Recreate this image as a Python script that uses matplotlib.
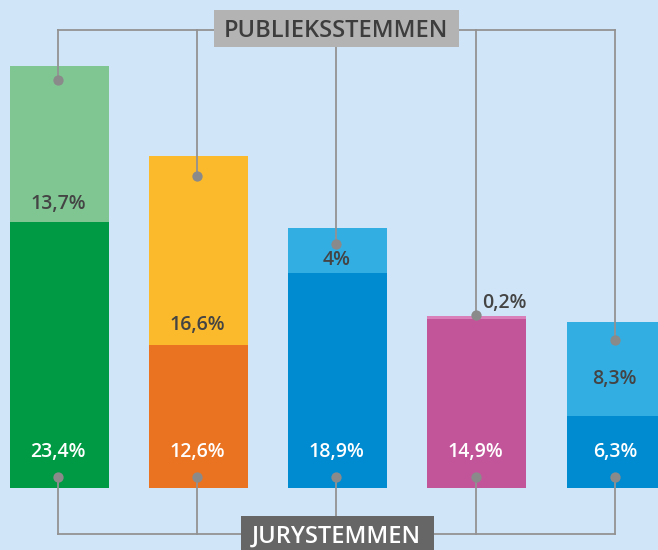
import numpy as np
import matplotlib
matplotlib.use("Agg")
import matplotlib.pyplot as plt
from matplotlib.patches import Rectangle

# Data: jury (bottom) and public (top) vote shares per act
jury = [23.4, 12.6, 18.9, 14.9, 6.3]
publiek = [13.7, 16.6, 4.0, 0.2, 8.3]
jury_labels = ["23,4%", "12,6%", "18,9%", "14,9%", "6,3%"]
publiek_labels = ["13,7%", "16,6%", "4%", "0,2%", "8,3%"]

# Styling
BG = "#d0e6f8"
jury_colors = ["#009a44", "#ea7321", "#008bd0", "#c2559a", "#008bd0"]
publiek_colors = ["#80c693", "#fbba2b", "#32aee3", "#d97fb9", "#32aee3"]
LINE = "#929292"
DOT = "#8a8a8a"
FONT = "Open Sans"
WEIGHT = "semibold"

# layout (data units, 1 unit ~ 11.37 px vertically, 139.2 px horizontally)
top_dot_y = [35.9, 27.4, 21.5, 15.2, 13.0]
bot_dot_y = 0.97
top_line_y = 40.3
bot_line_y = -4.05
label_off = [1.14, 1.3, 0.71, 0.7, 2.85]
jury_label_y = 2.73
bar_w = 99 / 139.2

fig = plt.figure(figsize=(6.58, 5.5), dpi=100)
fig.patch.set_facecolor(BG)
ax = fig.add_axes([0, 0, 1, 1])
ax.set_facecolor(BG)
ax.axis("off")

x = np.arange(len(jury))
ax.bar(x + 0.01, jury, width=bar_w, color=jury_colors, zorder=2)
ax.bar(x + 0.01, publiek, bottom=jury, width=bar_w, color=publiek_colors, zorder=2)

# connector lines
ax.plot([x[0], x[-1]], [top_line_y, top_line_y], color=LINE, lw=1.3, zorder=3)
ax.plot([x[0], x[-1]], [bot_line_y, bot_line_y], color=LINE, lw=1.3, zorder=3)
for i in x:
    ax.plot([i, i], [top_line_y, top_dot_y[i]], color=LINE, lw=1.3, zorder=3)
    ax.plot([i, i], [bot_line_y, bot_dot_y], color=LINE, lw=1.3, zorder=3)
ax.scatter(x, top_dot_y, s=55, color=DOT, zorder=4, linewidths=0)
ax.scatter(x, [bot_dot_y] * len(x), s=55, color=DOT, zorder=4, linewidths=0)

# value labels
for i in x:
    ax.text(i, jury_label_y, jury_labels[i], ha="center", va="baseline", color="white",
            fontsize=14, fontweight=WEIGHT, family=FONT, zorder=5)
    if i == 3:
        ax.text(i + 0.05, publiek[i] + jury[i] + label_off[i], publiek_labels[i], ha="left",
                va="baseline", color="#444444", fontsize=14, fontweight=WEIGHT, family=FONT, zorder=5)
    else:
        ax.text(i, jury[i] + label_off[i], publiek_labels[i], ha="center", va="baseline",
                color="#444444", fontsize=14, fontweight=WEIGHT, family=FONT, zorder=5)

# header boxes
ax.add_patch(Rectangle((1.121, 38.79), 1.76, 3.25, fc="#b3b3b3", ec="none", zorder=6))
ax.text(1.994, 39.67, "PUBLIEKSSTEMMEN", ha="center", va="baseline", color="#3d3d3d",
        fontsize=17, fontweight=WEIGHT, family=FONT, zorder=7)
ax.add_patch(Rectangle((1.315, -6.0), 1.386, 3.54, fc="#666666", ec="none", zorder=6))
ax.text(2.0, -4.78, "JURYSTEMMEN", ha="center", va="baseline", color="white",
        fontsize=17, fontweight=WEIGHT, family=FONT, zorder=7)

ax.set_xlim(-58 / 139.2, (658 - 58) / 139.2)
ax.set_ylim(-62 / 11.37, 488 / 11.37)

fig.savefig("out.png", dpi=100, facecolor=BG)
